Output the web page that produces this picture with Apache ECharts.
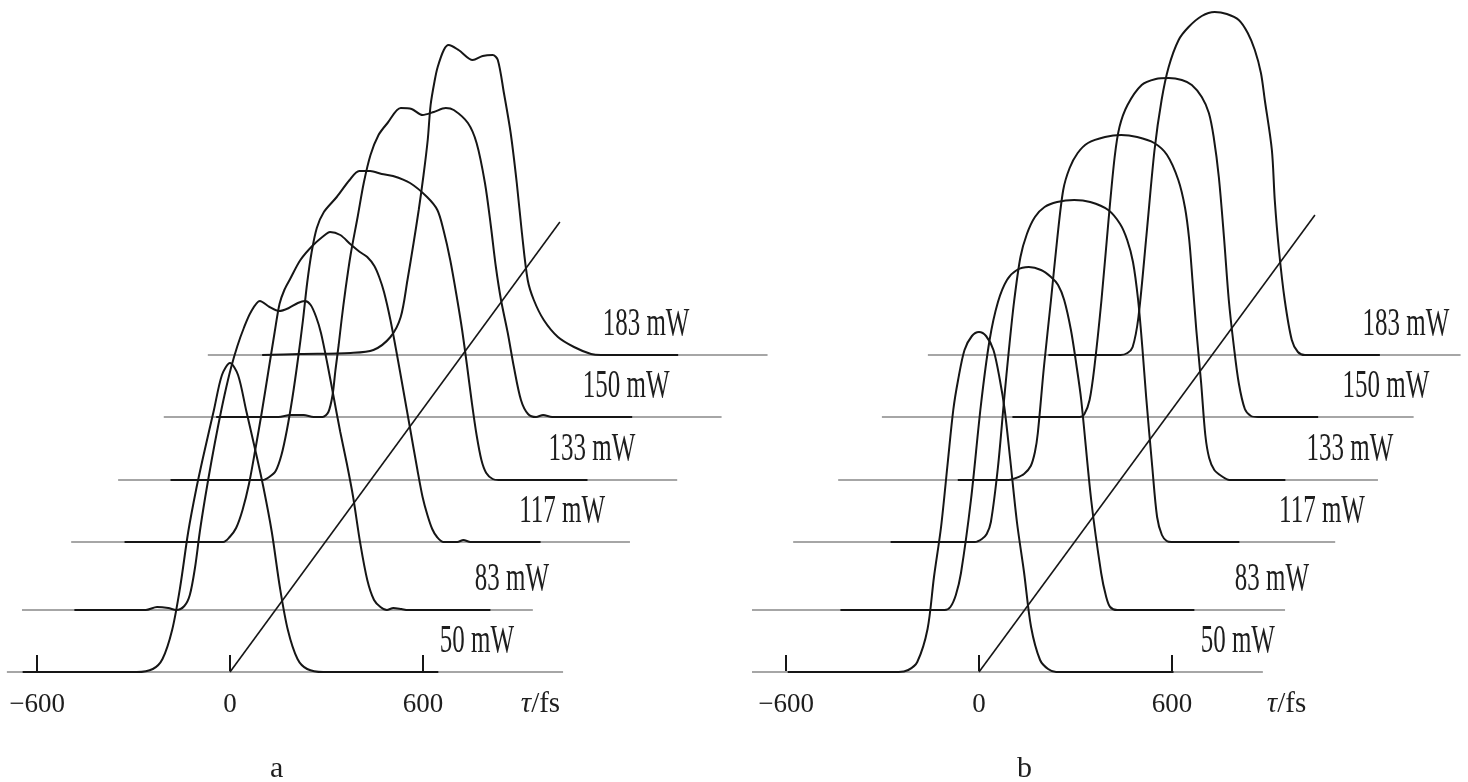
<!DOCTYPE html>
<html>
<head>
<meta charset="utf-8">
<script src="https://cdn.jsdelivr.net/npm/echarts@6/dist/echarts.min.js"></script>
<style>
  html, body { margin: 0; padding: 0; background: #fff; }
  #chart { width: 1468px; height: 782px; }
</style>
</head>
<body>
<div id="chart"></div>
<script>
// Autocorrelation traces of the pulse at six pump powers, drawn as a waterfall.
const powers = ['50 mW', '83 mW', '117 mW', '133 mW', '150 mW', '183 mW'];
const tickValues = [-600, 0, 600];
const panelNames = ['a', 'b'];

// Stacking of the traces: vertical step (a.u.) and horizontal skew (fs)
const lifts = [0, 62, 130, 192, 255, 317];
const shifts = [0, 143, 299, 442, 587, 730];

// Panel a: [τ (fs), intensity (a.u.)]
const a50 = [[-645,0],[-290,0],[-240,3],[-210,13],[-180,42],[-155,85],[-130,140],[-105,183],[-80,220],[-50,262],[-25,297],[0,309],[25,297],[50,262],[80,220],[105,183],[130,140],[155,85],[180,42],[210,13],[240,3],[290,0],[648,0]];
const a83 = [[-627,0],[-405,0],[-370,3],[-335,2],[-310,0],[-285,4],[-268,15],[-252,42],[-237,78],[-220,113],[-200,150],[-180,184],[-160,215],[-140,242],[-120,264],[-100,282],[-78,298],[-50,309],[-20,303],[10,299],[40,302],[68,307],[90,309],[108,305],[125,293],[140,277],[160,246],[180,212],[200,178],[220,147],[240,113],[262,67],[284,30],[305,10],[325,3],[345,0],[365,2],[390,1],[410,0],[667,0]];
const a117 = [[-627,0],[-320,0],[-300,5],[-280,14],[-260,32],[-240,58],[-220,93],[-200,130],[-180,170],[-160,210],[-145,238],[-130,252],[-112,263],[-80,282],[-40,297],[0,308],[12,310],[44,307],[75,298],[105,290],[128,285],[150,276],[165,265],[180,250],[200,222],[220,188],[240,152],[262,112],[284,72],[300,45],[315,27],[330,13],[345,5],[365,0],[408,0],[427,2],[449,0],[667,0]];
const a133 = [[-627,0],[-340,0],[-320,3],[-300,9],[-282,25],[-265,50],[-248,82],[-231,120],[-215,160],[-202,197],[-188,228],[-172,252],[-150,268],[-110,283],[-70,300],[-40,309],[-6,309],[30,306],[65,304],[118,297],[171,283],[203,270],[222,250],[243,220],[265,180],[280,150],[295,115],[310,78],[325,45],[340,20],[355,7],[375,1],[393,0],[670,0]];
const a150 = [[-630,0],[-436,0],[-399,2],[-358,2],[-327,0],[-299,0],[-281,5],[-268,22],[-259,47],[-249,72],[-240,97],[-228,127],[-212,162],[-190,200],[-171,234],[-150,262],[-125,282],[-97,294],[-56,309],[-22,308],[12,302],[47,305],[84,309],[109,307],[153,294],[180,274],[206,234],[224,192],[240,150],[256,117],[277,84],[296,50],[318,17],[340,3],[365,0],[387,2],[415,0],[664,0]];
const a183 = [[-630,0],[-511,1],[-355,2],[-284,5],[-231,18],[-199,38],[-178,75],[-159,112],[-143,145],[-128,180],[-115,215],[-106,250],[-93,275],[-84,288],[-65,305],[-50,310],[-19,305],[25,295],[56,299],[87,300],[103,295],[122,262],[143,222],[162,172],[178,122],[196,75],[215,55],[246,35],[290,18],[340,8],[393,1],[424,0],[664,0]];

// Panel b: [τ (fs), intensity (a.u.)]
const b50 = [[-595,0],[-250,0],[-220,2],[-192,10],[-160,43],[-140,95],[-118,145],[-97,210],[-80,262],[-65,292],[-45,322],[-22,336],[0,340],[22,336],[45,322],[65,292],[80,262],[97,213],[118,150],[140,100],[162,45],[190,12],[215,3],[240,0],[605,0]];
const b83 = [[-574,0],[-250,0],[-232,3],[-215,15],[-199,37],[-168,110],[-137,205],[-110,270],[-84,308],[-56,330],[-25,340],[12,343],[50,340],[81,333],[103,325],[122,310],[143,280],[160,245],[175,210],[206,110],[237,37],[252,14],[265,3],[287,0],[527,0]];
const b117 = [[-574,0],[-312,0],[-290,3],[-275,8],[-262,20],[-240,75],[-221,142],[-206,192],[-190,240],[-170,285],[-150,308],[-125,325],[-95,335],[-56,340],[-3,342],[47,340],[103,332],[140,318],[162,302],[180,280],[196,242],[209,195],[221,145],[240,75],[255,25],[270,7],[285,1],[300,0],[511,0]];
const b133 = [[-508,0],[-349,0],[-327,2],[-302,6],[-281,14],[-268,28],[-259,47],[-240,113],[-218,180],[-199,240],[-180,290],[-160,312],[-135,327],[-103,337],[-50,343],[0,345],[50,343],[103,337],[143,325],[178,300],[199,272],[212,240],[222,200],[234,150],[249,97],[262,45],[274,22],[290,10],[312,4],[337,0],[511,0]];
const b150 = [[-483,0],[-274,0],[-259,3],[-243,17],[-228,50],[-206,117],[-184,197],[-165,260],[-150,290],[-125,312],[-81,332],[-37,338],[3,339],[44,337],[75,332],[106,320],[128,304],[143,280],[159,240],[175,180],[190,117],[206,70],[221,34],[240,8],[259,1],[281,0],[468,0]];
const b183 = [[-514,0],[-290,0],[-268,2],[-252,8],[-234,38],[-209,120],[-184,205],[-162,255],[-140,288],[-109,315],[-78,328],[-37,339],[3,343],[41,341],[78,335],[106,322],[128,305],[147,282],[159,255],[181,205],[190,155],[203,105],[221,55],[243,15],[262,3],[284,0],[517,0]];

// Zero-intensity reference line of each trace: [from, to] in fs, relative to the trace
const baseA = [[-694,1036],[-790,799],[-793,945],[-790,949],[-793,942],[-799,942]];
const baseB = [[-796,883],[-864,809],[-877,809],[-880,799],[-889,765],[-889,768]];

// Time-zero line through the stack: [τ (fs), a.u.]
const zeroLineA = [[0,0],[1026,450]];
const zeroLineB = [[0,0],[1045,457]];

// τ (fs) where each power label sits
const labelTimesA = [768, 877, 1033, 1126, 1232, 1294];
const labelTimesB = [805, 911, 1067, 1154, 1266, 1328];

const tracesA = [a50, a83, a117, a133, a150, a183];
const tracesB = [b50, b83, b117, b133, b150, b183];

const SERIF = '"Liberation Serif", "Times New Roman", serif';
const INK = '#161616';
const TEXT = '#1e1e1e';

function panelSeries(idx, traces, bases, zeroLine, labelTimes) {
  const out = [];
  bases.forEach((b, k) => {
    out.push({
      type: 'line', xAxisIndex: idx, yAxisIndex: idx,
      data: [[b[0] + shifts[k], lifts[k]], [b[1] + shifts[k], lifts[k]]],
      symbol: 'none', silent: true, clip: false, z: 1,
      lineStyle: { color: '#a6a6a6', width: 2 }
    });
  });
  traces.forEach((tr, k) => {
    out.push({
      type: 'line', xAxisIndex: idx, yAxisIndex: idx,
      name: powers[k],
      data: tr.map(([t, v]) => [t + shifts[k], v + lifts[k]]),
      symbol: 'none', clip: false, z: 3,
      smooth: 0.3,
      lineStyle: { color: INK, width: 2 }
    });
  });
  out.push({
    type: 'line', xAxisIndex: idx, yAxisIndex: idx,
    data: zeroLine, symbol: 'none', clip: false, z: 2,
    lineStyle: { color: INK, width: 1.6 }
  });
  out.push({
    type: 'custom', xAxisIndex: idx, yAxisIndex: idx, clip: false, z: 5,
    data: labelTimes.map((t, k) => [t, lifts[k], k]),
    encode: { x: 0, y: 1 },
    renderItem: (params, api) => {
      const p = api.coord([api.value(0), api.value(1)]);
      return {
        type: 'text', x: p[0], y: p[1] - 31, scaleY: 1.6,
        style: {
          text: powers[api.value(2)], fill: TEXT,
          fontFamily: SERIF, fontSize: 25,
          align: 'center', verticalAlign: 'middle'
        }
      };
    }
  });
  return out;
}

function fmtTick(v) {
  if (!tickValues.includes(v)) return '';
  return v < 0 ? '\u2212' + (-v) : String(v);
}

function xAxisFor(idx, max, namePad) {
  return {
    gridIndex: idx, type: 'value', position: 'bottom',
    min: -700, max: max, interval: 100,
    axisLine: { show: false, onZero: false }, splitLine: { show: false },
    axisTick: {
      show: true, inside: true, length: 17, customValues: tickValues,
      lineStyle: { color: INK, width: 2 }
    },
    axisLabel: {
      show: true, margin: 19,
      fontFamily: SERIF, fontSize: 27, color: TEXT,
      formatter: fmtTick
    },
    name: '{t|τ}/fs', nameLocation: 'middle', nameGap: 18, nameMoveOverlap: false,
    nameTextStyle: {
      fontFamily: SERIF, fontSize: 29, color: TEXT,
      align: 'left', verticalAlign: 'top', padding: [0, 0, 0, namePad],
      rich: { t: { fontFamily: SERIF, fontSize: 29, fontStyle: 'italic', color: TEXT } }
    }
  };
}

const chart = echarts.init(document.getElementById('chart'), null, { renderer: 'canvas' });
chart.setOption({
  animation: false,
  backgroundColor: '#fff',
  title: [
    { text: panelNames[0], left: 265, top: 749, textStyle: { fontFamily: SERIF, fontSize: 30, fontWeight: 'normal', color: TEXT } },
    { text: panelNames[1], left: 1012, top: 749, textStyle: { fontFamily: SERIF, fontSize: 30, fontWeight: 'normal', color: TEXT } }
  ],
  grid: [
    { left: 4.95, width: 771.6, top: 0, height: 672, containLabel: false, outerBoundsMode: 'none' },
    { left: 753.95, width: 713.7, top: 0, height: 672, containLabel: false, outerBoundsMode: 'none' }
  ],
  xAxis: [xAxisFor(0, 1700, 130), xAxisFor(1, 1520, 156)],
  yAxis: [
    { gridIndex: 0, type: 'value', min: 0, max: 672, show: false },
    { gridIndex: 1, type: 'value', min: 0, max: 672, show: false }
  ],
  series: [
    ...panelSeries(0, tracesA, baseA, zeroLineA, labelTimesA),
    ...panelSeries(1, tracesB, baseB, zeroLineB, labelTimesB)
  ]
});
</script>
</body>
</html>
